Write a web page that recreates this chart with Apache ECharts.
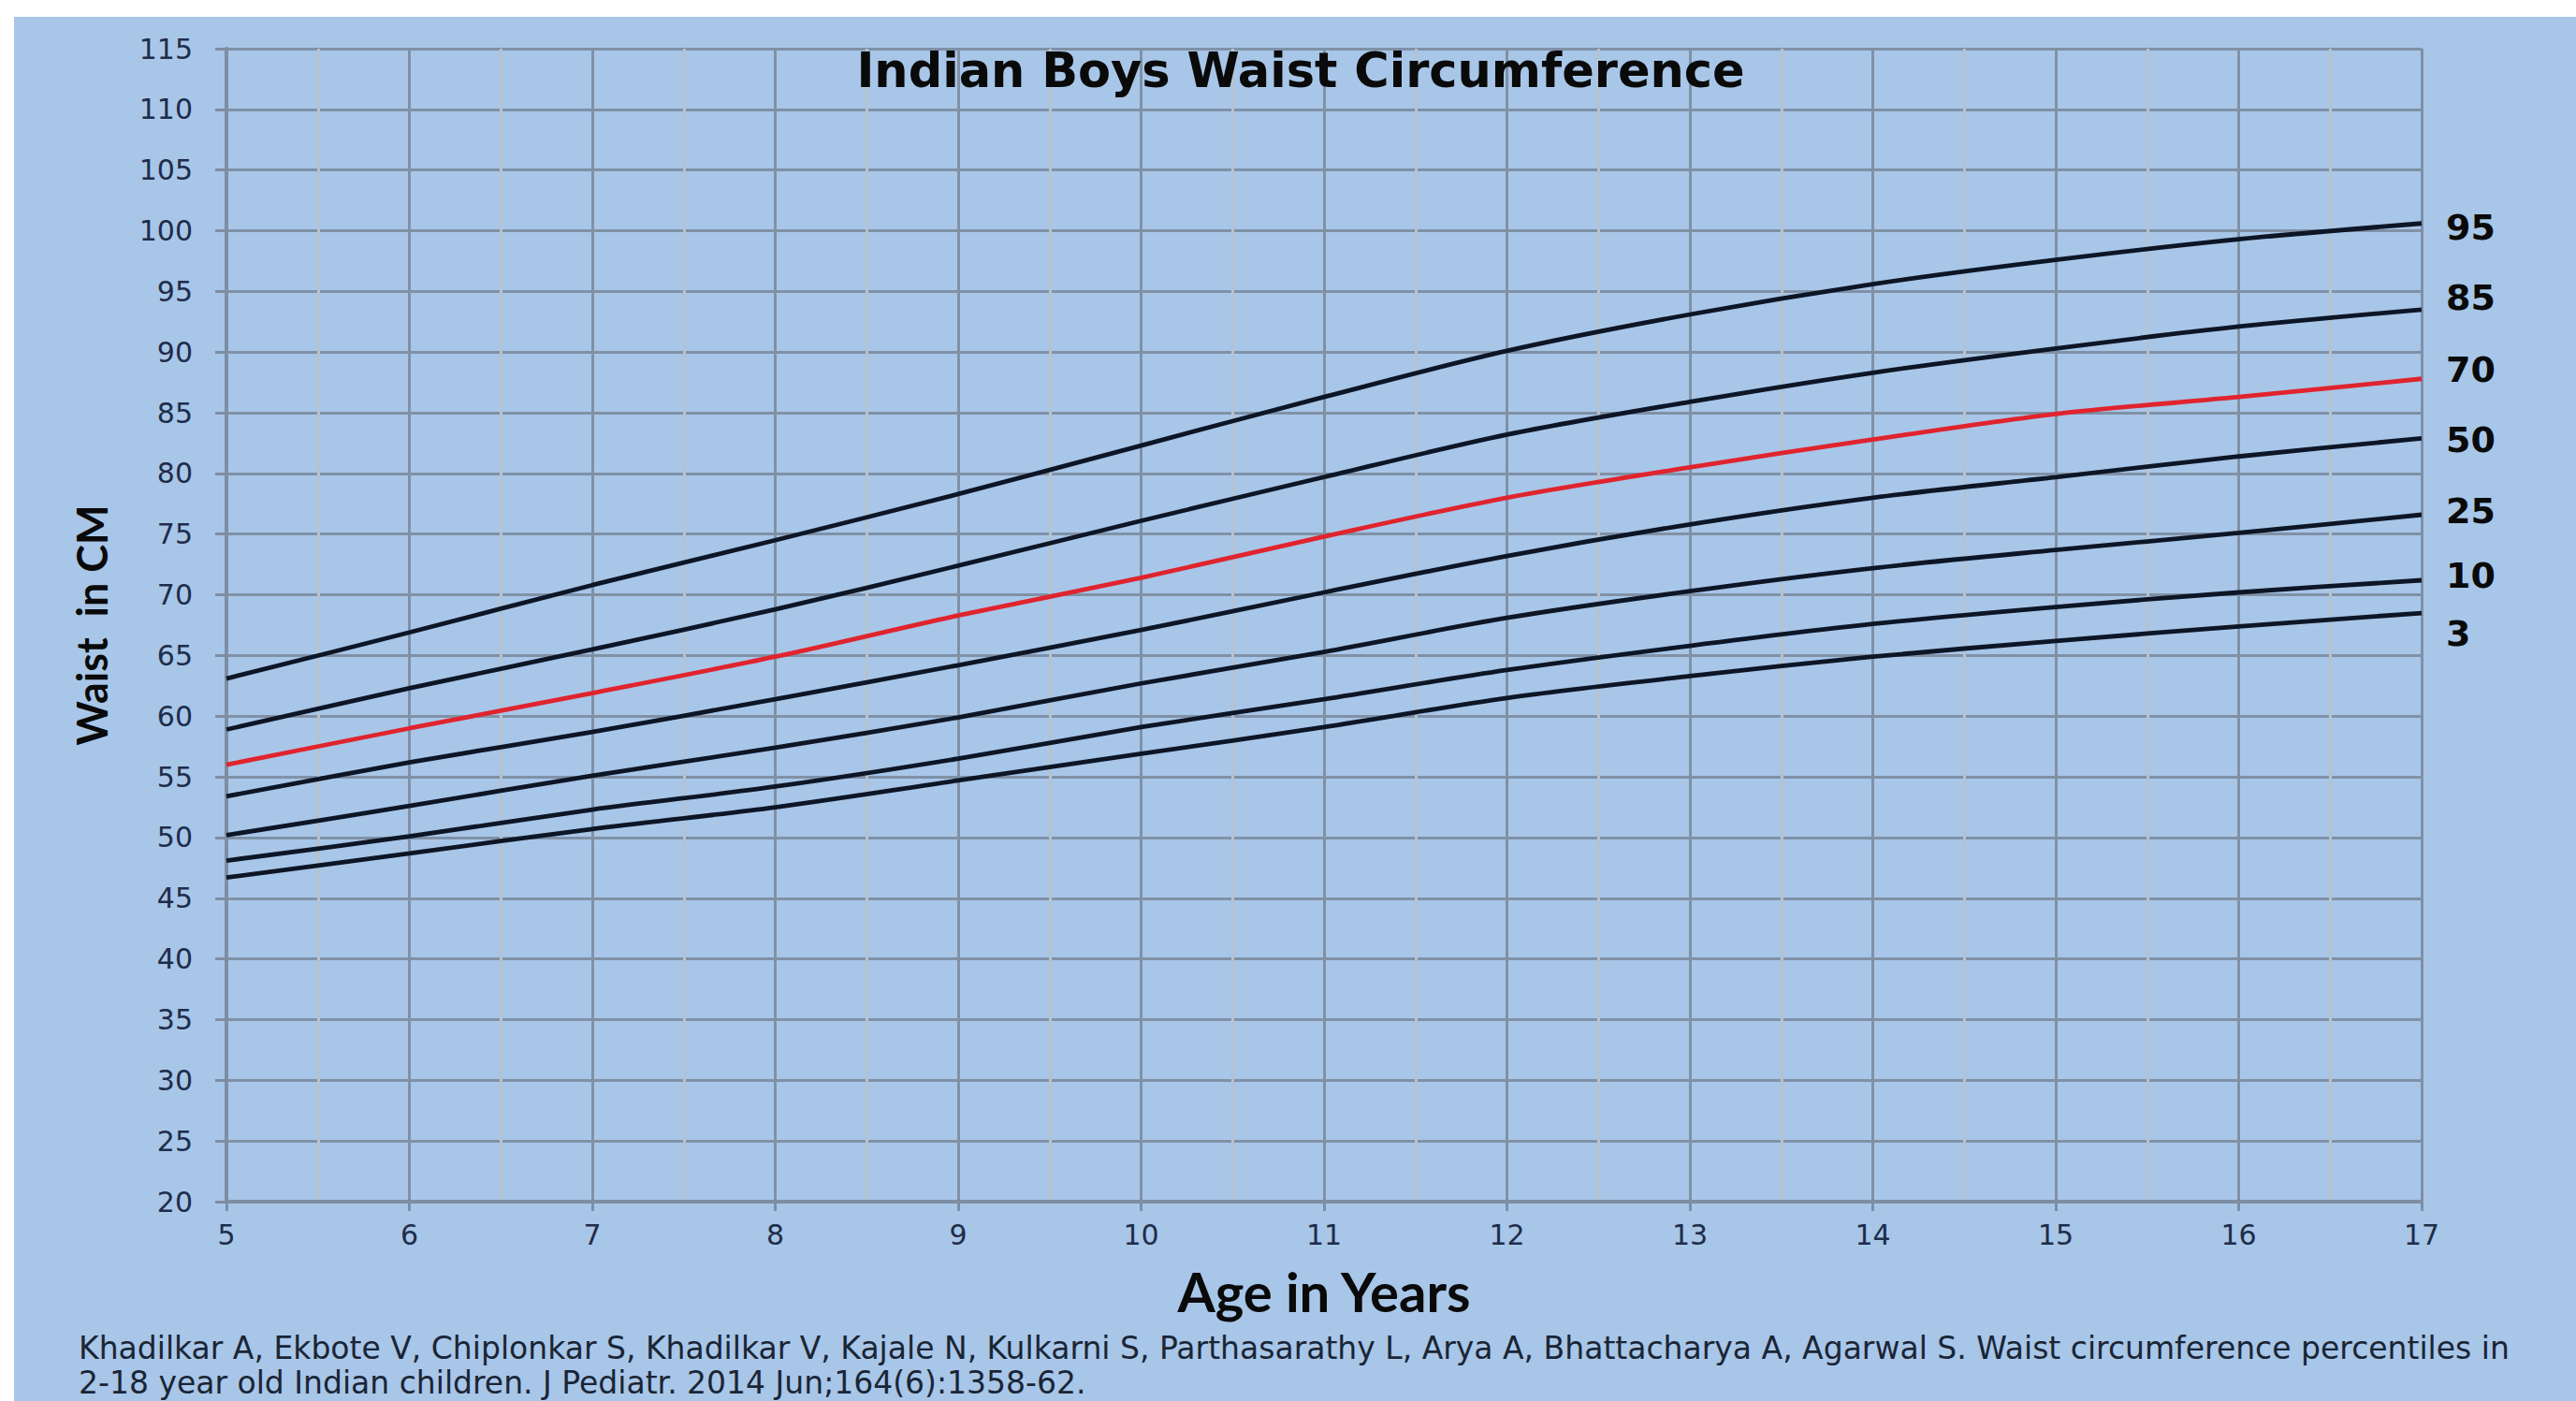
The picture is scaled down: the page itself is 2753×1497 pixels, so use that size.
<!DOCTYPE html>
<html>
<head>
<meta charset="utf-8">
<script src="https://cdn.jsdelivr.net/npm/echarts@6/dist/echarts.min.js"></script>
<style>
  html, body { margin: 0; padding: 0; background: #ffffff; }
  #chart { position: absolute; left: 15px; top: 18px; width: 2738px; height: 1479px; background: #a8c6e8; }
</style>
</head>
<body>
<div id="chart"></div>
<script>
  // ages (years)
  var ages = [5, 6, 7, 8, 9, 10, 11, 12, 13, 14, 15, 16, 17];
  // waist circumference percentiles, cm
  var p95 = [63.1, 66.9, 70.8, 74.5, 78.3, 82.3, 86.3, 90.1, 93.1, 95.6, 97.6, 99.3, 100.6];
  var p85 = [58.9, 62.3, 65.5, 68.8, 72.4, 76.1, 79.7, 83.2, 85.9, 88.3, 90.3, 92.1, 93.5];
  var p70 = [56.0, 59.0, 61.9, 64.9, 68.3, 71.4, 74.8, 78.0, 80.5, 82.8, 84.9, 86.3, 87.8];
  var p50 = [53.4, 56.2, 58.7, 61.4, 64.2, 67.1, 70.2, 73.2, 75.8, 78.0, 79.7, 81.4, 82.9];
  var p25 = [50.2, 52.6, 55.1, 57.4, 59.9, 62.7, 65.3, 68.1, 70.3, 72.2, 73.7, 75.1, 76.6];
  var p10 = [48.1, 50.1, 52.3, 54.2, 56.5, 59.1, 61.4, 63.8, 65.8, 67.6, 69.0, 70.2, 71.2];
  var p3  = [46.7, 48.7, 50.7, 52.5, 54.7, 56.9, 59.1, 61.5, 63.3, 64.9, 66.2, 67.4, 68.5];
  var percentileNames = ['95', '85', '70', '50', '25', '10', '3'];

  // axis ranges
  var xMin = 5, xMax = 17, xStep = 1;
  var yMin = 20, yMax = 115, yStep = 5;

  var citation1 = 'Khadilkar A, Ekbote V, Chiplonkar S, Khadilkar V, Kajale N, Kulkarni S, Parthasarathy L, Arya A, Bhattacharya A, Agarwal S. Waist circumference percentiles in';
  var citation2 = '2-18 year old Indian children. J Pediatr. 2014 Jun;164(6):1358-62.';

  // label nudges so the end labels sit like the original
  var labelDy = { '95': 4, '85': -13, '70': -10, '50': 2, '25': -4, '10': -5, '3': 22 };

  var curves = [p95, p85, p70, p50, p25, p10, p3];
  var gridMajor = '#8091a6';
  var gridMinor = '#b6c2ce';
  var axisColor = '#7d8ea4';
  var labelColor = '#1e2d4a';

  var series = [];
  for (var i = 0; i < curves.length; i++) {
    var name = percentileNames[i];
    var vals = curves[i];
    series.push({
      name: name,
      type: 'line',
      smooth: 0.3,
      symbol: 'none',
      data: ages.map(function (a, j) { return [a, vals[j]]; }),
      lineStyle: { color: name === '70' ? '#e0242e' : '#0d1626', width: 4.8 },
      endLabel: {
        show: true,
        formatter: '{a}',
        offset: [18, labelDy[name]],
        color: '#0a0a0a',
        fontFamily: 'DejaVu Sans',
        fontWeight: 'bold',
        fontSize: 38
      },
      z: name === '70' ? 4 : 3
    });
  }

  var chart = echarts.init(document.getElementById('chart'), null, { renderer: 'svg' });
  chart.setOption({
    animation: false,
    backgroundColor: '#a8c6e8',
    title: {
      text: 'Indian Boys Waist Circumference',
      left: 1375,
      textAlign: 'center',
      top: 32,
      padding: 0,
      textStyle: { fontFamily: 'DejaVu Sans', fontWeight: 'bold', fontSize: 51, color: '#0a0a0a' }
    },
    grid: { left: 227, right: 165, top: 34, bottom: 213, containLabel: false },
    xAxis: {
      type: 'value',
      min: xMin, max: xMax, interval: xStep,
      name: 'Age in Years',
      nameLocation: 'middle',
      nameGap: 66,
      nameTextStyle: { fontFamily: 'Lato', fontWeight: 'bold', fontSize: 58, color: '#0a0a0a' },
      axisLine: { show: true, onZero: false, lineStyle: { color: axisColor, width: 4 } },
      axisTick: { show: true, length: 10, lineStyle: { color: axisColor, width: 3 } },
      axisLabel: { color: labelColor, fontFamily: 'DejaVu Sans', fontSize: 30, margin: 20 },
      splitLine: { show: true, lineStyle: { color: gridMajor, width: 3 } },
      minorTick: { show: false, splitNumber: 2 },
      minorSplitLine: { show: true, lineStyle: { color: gridMinor, width: 3 } }
    },
    yAxis: {
      type: 'value',
      min: yMin, max: yMax, interval: yStep,
      name: 'Waist  in CM',
      nameLocation: 'middle',
      nameRotate: 90,
      nameGap: 122,
      nameTextStyle: { fontFamily: 'Lato', fontWeight: 'bold', fontSize: 45, color: '#0a0a0a' },
      axisLine: { show: true, onZero: false, lineStyle: { color: axisColor, width: 4 } },
      axisTick: { show: true, length: 12, lineStyle: { color: axisColor, width: 3 } },
      axisLabel: { color: labelColor, fontFamily: 'DejaVu Sans', fontSize: 30, margin: 36 },
      splitLine: { show: true, lineStyle: { color: gridMajor, width: 3 } }
    },
    graphic: [{
      type: 'text',
      left: 69,
      top: 1404,
      style: {
        text: citation1 + '\n' + citation2,
        fontFamily: 'DejaVu Sans',
        fontSize: 33,
        lineHeight: 37,
        fill: '#1a2535'
      }
    }],
    series: series
  });
</script>
</body>
</html>
